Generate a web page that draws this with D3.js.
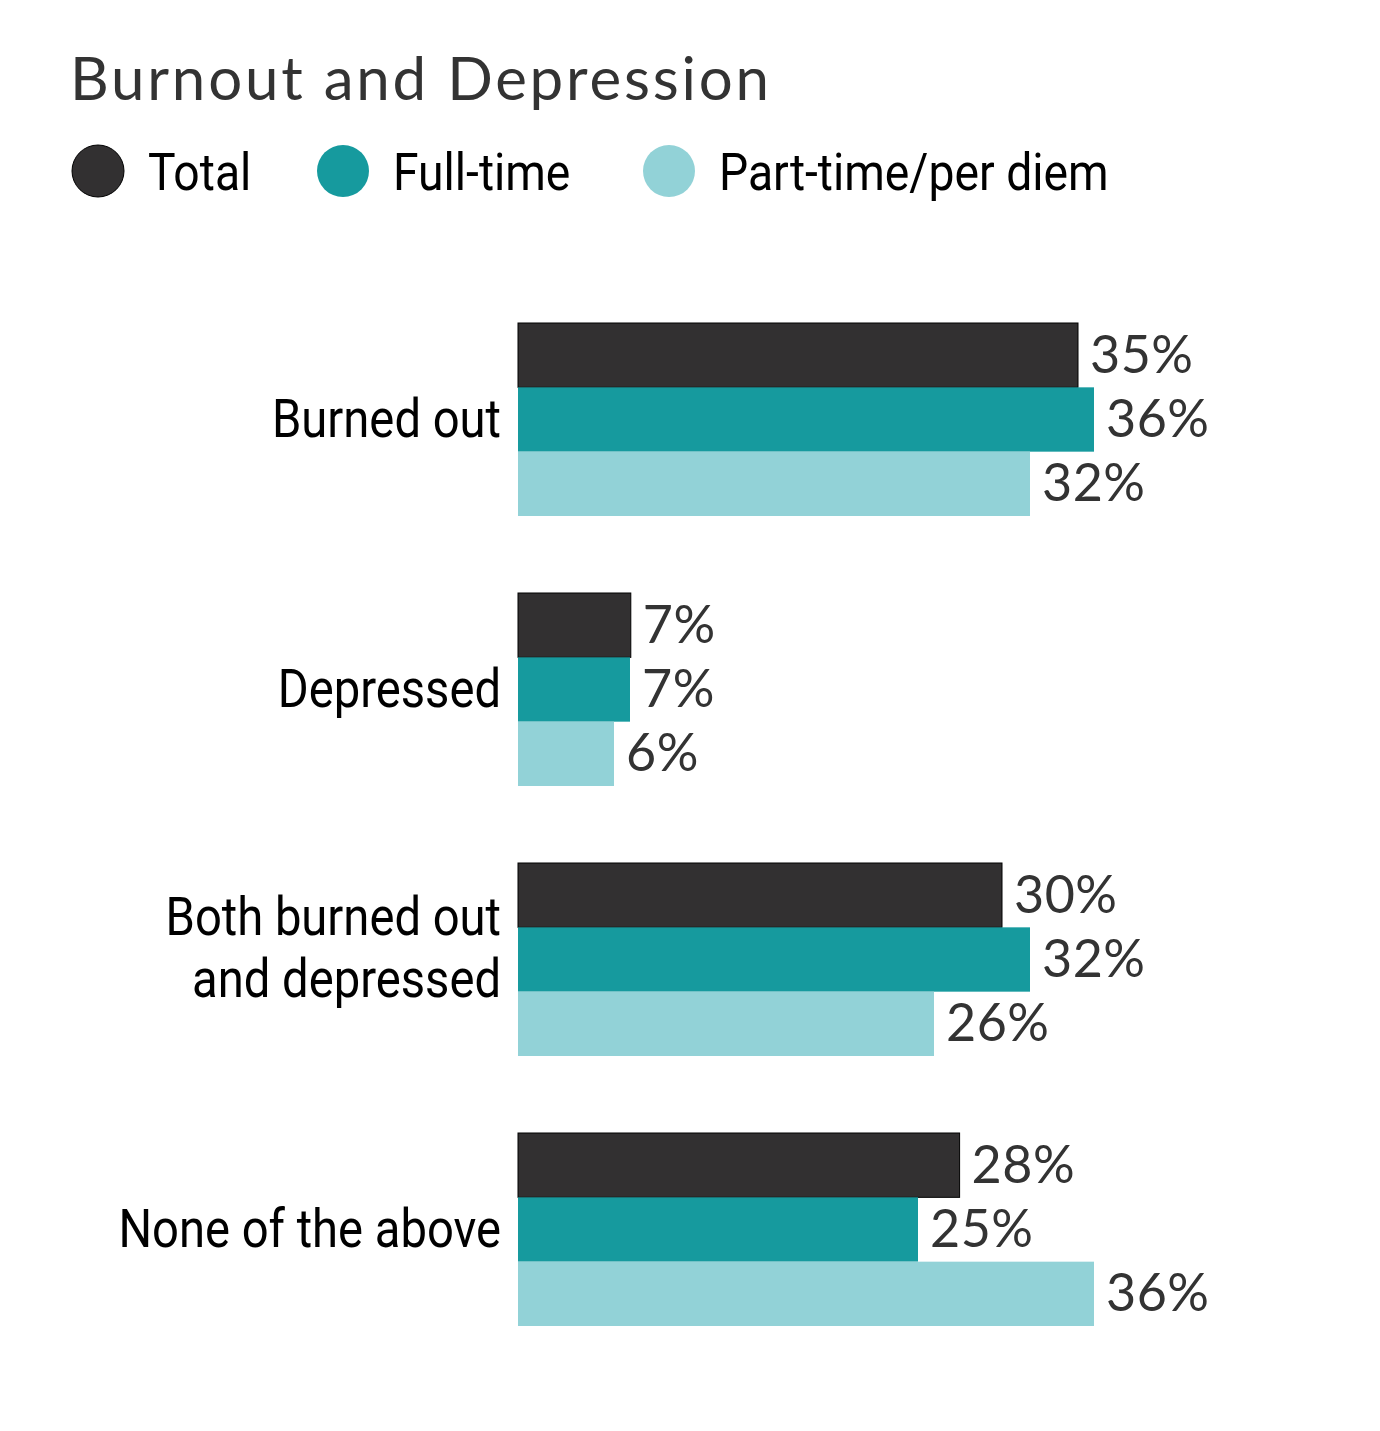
<!DOCTYPE html>
<html>
<head>
<meta charset="utf-8">
<script src="https://cdn.jsdelivr.net/npm/d3@7"></script>
<style>
  body { margin: 0; background: #fff; }
</style>
</head>
<body>
<script>
// data
var categories = [["Burned out"], ["Depressed"], ["Both burned out", "and depressed"], ["None of the above"]];
var seriesNames = ["Total", "Full-time", "Part-time/per diem"];
var totalValues = [35, 7.05, 30.25, 27.6];
var fullTimeValues = [36, 7, 32, 25];
var partTimeValues = [32, 6, 26, 36];
var colors = ["#323031", "#169a9e", "#92d2d7"];

var svgWidth = 1380, svgHeight = 1431;
var barLeft = 518;
var condensed = 0.89;

var svg = d3.select("body").append("svg")
  .attr("width", svgWidth)
  .attr("height", svgHeight);

// title
svg.append("text")
  .attr("x", 70)
  .attr("y", 100)
  .attr("font-family", "Lato, 'Open Sans', sans-serif")
  .attr("font-size", 60)
  .attr("letter-spacing", 2.8)
  .attr("fill", "#333")
  .text("Burnout and Depression");

// legend
var legendX = [98, 343, 669];
seriesNames.forEach(function(name, i) {
  svg.append("circle")
    .attr("cx", legendX[i])
    .attr("cy", 171)
    .attr("r", 26)
    .attr("fill", colors[i])
    .attr("stroke", i === 0 ? "#000" : "none")
    .attr("stroke-width", 1);
  svg.append("text")
    .attr("transform", `translate(${legendX[i] + 50}, 190) scale(${condensed}, 1)`)
    .attr("font-family", "Roboto, sans-serif")
    .attr("font-size", 52)
    .attr("fill", "#000")
    .text(name);
});

// build rows
var rows = categories.map(function(c, i) {
  return { label: c, values: [totalValues[i], fullTimeValues[i], partTimeValues[i]] };
});

var x = d3.scaleLinear().domain([0, 36]).range([barLeft, 1094]);

var y0 = d3.scaleBand()
  .domain(d3.range(categories.length))
  .range([323, 1326])
  .paddingInner(77 / 270)
  .paddingOuter(0);

var y1 = d3.scaleBand()
  .domain(d3.range(seriesNames.length))
  .range([0, y0.bandwidth()]);

var groups = svg.selectAll(".group")
  .data(rows)
  .enter().append("g")
  .attr("class", "group")
  .attr("transform", (d, i) => `translate(0, ${y0(i)})`);

groups.selectAll("rect")
  .data(d => d.values)
  .enter().append("rect")
  .attr("x", x(0))
  .attr("y", (d, j) => y1(j))
  .attr("width", d => x(d) - x(0))
  .attr("height", y1.bandwidth())
  .attr("fill", (d, j) => colors[j])
  .attr("stroke", (d, j) => j === 0 ? "#000" : "none")
  .attr("stroke-width", 1);

groups.selectAll(".val")
  .data(d => d.values)
  .enter().append("text")
  .attr("class", "val")
  .attr("x", d => x(d) + 12)
  .attr("y", (d, j) => y1(j) + y1.bandwidth() / 2 + 17.5)
  .attr("font-family", "Lato, 'Open Sans', sans-serif")
  .attr("font-size", 52)
  .attr("letter-spacing", 0.5)
  .attr("fill", "#333")
  .text(d => Math.round(d) + "%");

// category labels, right aligned next to bars
groups.each(function(d) {
  var g = d3.select(this);
  var mid = y0.bandwidth() / 2;
  var lineH = 62;
  var first = mid + 17.5 - (d.label.length - 1) * 42;
  d.label.forEach(function(line, k) {
    g.append("text")
      .attr("transform", `translate(501, ${first + k * lineH}) scale(${condensed}, 1)`)
      .attr("text-anchor", "end")
      .attr("font-family", "Roboto, sans-serif")
      .attr("font-size", 53)
      .attr("fill", "#000")
      .text(line);
  });
});
</script>
</body>
</html>
